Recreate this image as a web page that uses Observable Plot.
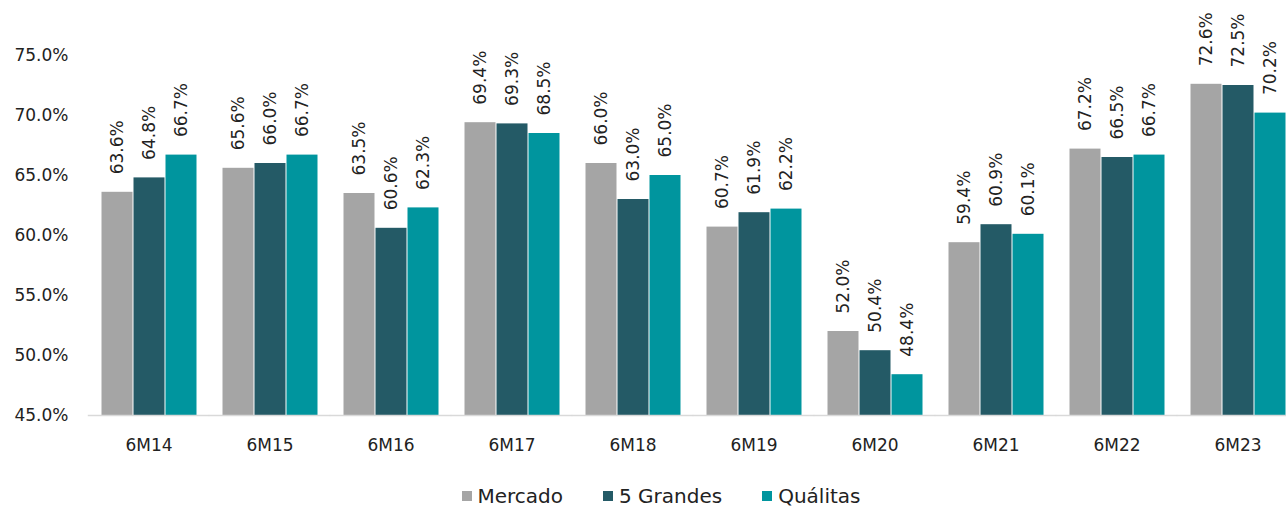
<!DOCTYPE html>
<html>
<head>
<meta charset="utf-8">
<script src="https://cdn.jsdelivr.net/npm/d3@7"></script>
<script src="https://cdn.jsdelivr.net/npm/@observablehq/plot@0.6"></script>
<style>
  body { margin: 0; background: #fff; font-family: "DejaVu Sans", sans-serif; }
  #legend { display: flex; justify-content: center; align-items: center; height: 52px; padding-left: 36px; box-sizing: border-box; font-size: 20px; color: #222; }
  .item { display: flex; align-items: center; margin: 0 20px; }
  .sw { width: 10px; height: 10px; margin-right: 6px; }
</style>
</head>
<body>
<div id="chart"></div>
<div id="legend"></div>
<script>
const categories = ["6M14","6M15","6M16","6M17","6M18","6M19","6M20","6M21","6M22","6M23"];
const series = ["Mercado","5 Grandes","Quálitas"];
const mercado  = [63.6, 65.6, 63.5, 69.4, 66.0, 60.7, 52.0, 59.4, 67.2, 72.6];
const grandes  = [64.8, 66.0, 60.6, 69.3, 63.0, 61.9, 50.4, 60.9, 66.5, 72.5];
const qualitas = [66.7, 66.7, 62.3, 68.5, 65.0, 62.2, 48.4, 60.1, 66.7, 70.2];
const yTicks = [45, 50, 55, 60, 65, 70, 75];
const colors = ["#a5a5a5", "#245a66", "#00959e"];

const values = [mercado, grandes, qualitas];
const data = categories.flatMap((c, i) => series.map((s, j) => ({cat: c, s, v: values[j][i]})));

const chart = Plot.plot({
  width: 1286,
  height: 470,
  marginTop: 55,
  marginBottom: 55,
  marginLeft: 88,
  marginRight: -12,
  style: {fontFamily: "DejaVu Sans, sans-serif", fontSize: "17px", color: "#222", background: "#fff"},
  fx: {domain: categories, paddingInner: 0.2, paddingOuter: 0.1, label: null},
  x: {domain: series, padding: 0, axis: null},
  y: {domain: [45, 75], label: null},
  color: {domain: series, range: colors},
  marks: [
    Plot.axisY({ticks: yTicks, tickSize: 0, tickPadding: 32, tickFormat: d => d.toFixed(1) + "%", label: null, fontSize: 17}),
    Plot.axisFx({anchor: "bottom", tickSize: 0, tickPadding: 23, label: null, fontSize: 17}),
    Plot.barY(data, {fx: "cat", x: "s", y1: 45, y2: "v", fill: "s", insetLeft: 0.5, insetRight: 0.5}),
    Plot.ruleY([45], {stroke: "#d9d9d9", strokeWidth: 1.5, insetLeft: -12.2, insetRight: -12.2}),
    Plot.text(data, {fx: "cat", x: "s", y: "v", text: d => d.v.toFixed(1) + "%", rotate: -90, textAnchor: "start", dy: -18, fill: "#222", fontSize: 17})
  ]
});
document.getElementById("chart").appendChild(chart);

const legend = document.getElementById("legend");
series.forEach((s, j) => {
  const it = document.createElement("div");
  it.className = "item";
  it.innerHTML = `<span class="sw" style="background:${colors[j]}"></span><span>${s}</span>`;
  legend.appendChild(it);
});
</script>
</body>
</html>
